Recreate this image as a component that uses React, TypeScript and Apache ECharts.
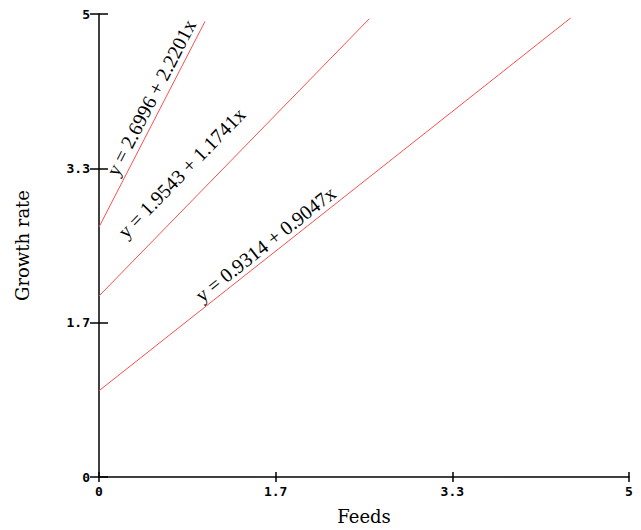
import React, { useEffect, useRef } from "react";
import * as echarts from "echarts";

// Regression lines: y = intercept + slope * x
const equations = ["y = 2.6996 + 2.2201x", "y = 1.9543 + 1.1741x", "y = 0.9314 + 0.9047x"];
const intercepts = [2.6996, 1.9543, 0.9314];
const slopes = [2.2201, 1.1741, 0.9047];
const xStarts = [0, 0, 0];
const xEnds = [1.0, 2.55, 4.45];

const xTicks = [0, 5 / 3, 10 / 3, 5];
const yTicks = [0, 5 / 3, 10 / 3, 5];

// where each equation label sits along its line (data x) and its perpendicular offset (px)
const labelAt = [0.6, 0.96, 1.64];
const labelOffset = [13, 27, 12];

const fmt = (v: number) => {
  const r = Math.round(v * 10) / 10;
  return r % 1 === 0 ? String(r) : r.toFixed(1);
};

export default function App() {
  const ref = useRef<HTMLDivElement>(null);
  useEffect(() => {
    if (!ref.current) return;
    const chart = echarts.init(ref.current, undefined, { renderer: "svg" });
    const tickFont = {
      fontFamily: "DejaVu Sans Mono",
      fontWeight: "bold" as const,
      fontSize: 13,
      color: "#000",
    };
    const step = xTicks[1] - xTicks[0];
    const ystep = yTicks[1] - yTicks[0];
    const baseX = {
      type: "value" as const,
      min: xTicks[0],
      max: xTicks[xTicks.length - 1],
      interval: step,
      splitLine: { show: false },
      position: "bottom" as const,
    };
    const baseY = {
      type: "value" as const,
      min: yTicks[0],
      max: yTicks[yTicks.length - 1],
      interval: ystep,
      splitLine: { show: false },
      position: "left" as const,
    };
    chart.setOption({
      animation: false,
      grid: { left: 99, right: 12, top: 14, bottom: 53 },
      xAxis: [
        {
          ...baseX,
          name: "Feeds",
          nameLocation: "middle",
          nameGap: 30,
          nameTextStyle: { fontFamily: "DejaVu Serif", fontSize: 18, color: "#000" },
          axisLine: { show: true, lineStyle: { color: "#000", width: 1.5 } },
          axisTick: { show: true, inside: true, length: 5, lineStyle: { color: "#000", width: 1.5 } },
          axisLabel: { ...tickFont, margin: 8, formatter: fmt },
        },
        {
          ...baseX,
          axisLine: { show: false },
          axisTick: { show: true, inside: false, length: 5, lineStyle: { color: "#000", width: 1.5 } },
          axisLabel: { show: false },
        },
      ],
      yAxis: [
        {
          ...baseY,
          name: "Growth rate",
          nameLocation: "middle",
          nameGap: 68,
          nameTextStyle: { fontFamily: "DejaVu Serif", fontSize: 18, color: "#000" },
          axisLine: { show: true, lineStyle: { color: "#000", width: 1.5 } },
          axisTick: { show: true, inside: true, length: 9, lineStyle: { color: "#000", width: 1.5 } },
          axisLabel: { ...tickFont, margin: 9, formatter: fmt },
        },
        {
          ...baseY,
          axisLine: { show: false },
          axisTick: { show: true, inside: false, length: 9, lineStyle: { color: "#000", width: 1.5 } },
          axisLabel: { show: false },
        },
      ],
      series: equations.map((name, i) => ({
        type: "line",
        name,
        xAxisIndex: 0,
        yAxisIndex: 0,
        showSymbol: false,
        symbol: "none",
        lineStyle: { color: "#ff4d4d", width: 1 },
        data: [
          [xStarts[i], intercepts[i] + slopes[i] * xStarts[i]],
          [xEnds[i], intercepts[i] + slopes[i] * xEnds[i]],
        ],
      })),
    });

    const graphics = equations.map((text, i) => {
      const f = (x: number) => intercepts[i] + slopes[i] * x;
      const p0 = chart.convertToPixel({ seriesIndex: i }, [0, f(0)]) as number[];
      const p1 = chart.convertToPixel({ seriesIndex: i }, [1, f(1)]) as number[];
      const theta = Math.atan2(p0[1] - p1[1], p1[0] - p0[0]);
      const foot = chart.convertToPixel({ seriesIndex: i }, [labelAt[i], f(labelAt[i])]) as number[];
      const d = labelOffset[i];
      const cx = foot[0] - d * Math.sin(theta);
      const cy = foot[1] - d * Math.cos(theta);
      return {
        type: "text",
        x: cx,
        y: cy,
        rotation: theta,
        style: {
          text,
          fontFamily: "Liberation Serif",
          fontSize: 20,
          fill: "#000",
          align: "center",
          verticalAlign: "middle",
        },
      };
    });
    chart.setOption({ graphic: graphics });

    return () => chart.dispose();
  }, []);
  return (
    <div
      ref={ref}
      style={{ position: "absolute", left: 0, top: 0, width: 641, height: 530, background: "#fff" }}
    />
  );
}
